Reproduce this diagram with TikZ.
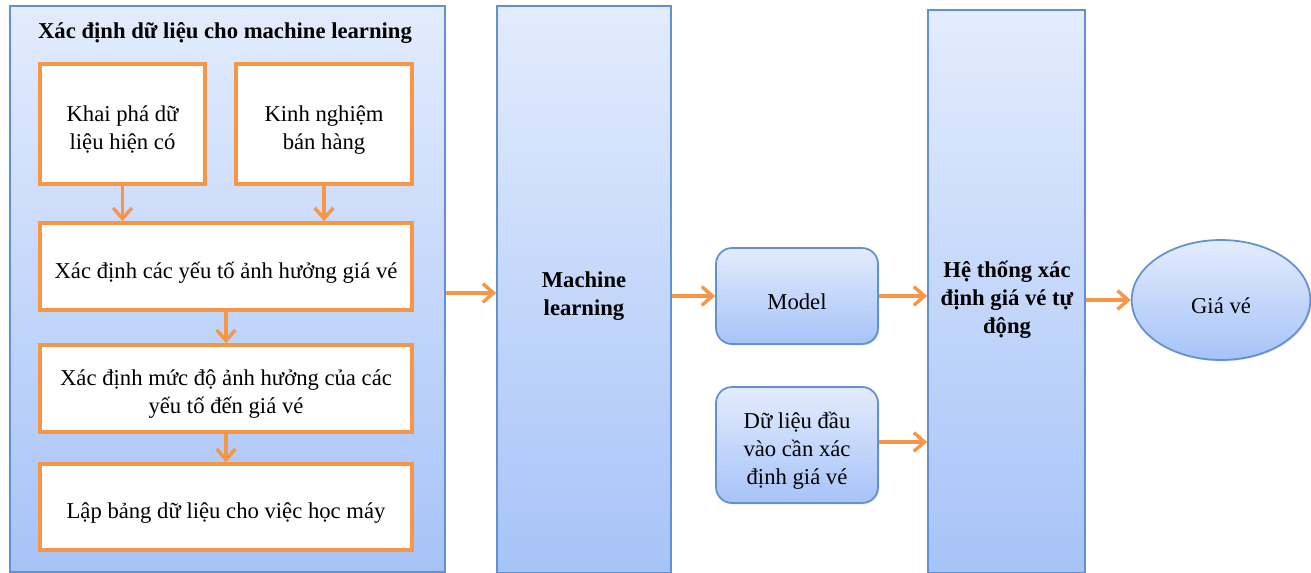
\documentclass[tikz,border=0pt]{standalone}
\usepackage{fontspec}
\setmainfont{Liberation Serif}
\usetikzlibrary{arrows.meta,shapes.geometric,shadows}
\definecolor{blueline}{HTML}{6390D0}
\definecolor{bluetop}{HTML}{E3ECFD}
\definecolor{bluebot}{HTML}{A6C3F8}
\definecolor{orangeline}{HTML}{F79646}
\begin{document}
\begin{tikzpicture}[x=0.75pt,y=-0.75pt,
  panel/.style={draw=blueline,line width=1.3pt,top color=bluetop,bottom color=bluebot,
    drop shadow={shadow xshift=1pt,shadow yshift=-1pt,opacity=0.25}},
  roundpanel/.style={panel,rounded corners=12pt},
  whitebox/.style={draw=orangeline,fill=white,line width=2.6pt},
  flow/.style={draw=orangeline,line width=2.6pt,-{Straight Barb[length=8pt,width=14pt,line width=2.6pt]}},
  lbl/.style={align=center,font=\fontsize{17}{21}\selectfont},
  blbl/.style={align=center,font=\bfseries\fontsize{17}{21}\selectfont},
  low/.style={yshift=-4.5pt}]
\useasboundingbox (0,0) rectangle (1311,573);

% left panel with the data preparation steps
\node[panel,minimum width=326.25pt,minimum height=424.5pt] (prep) at (227.5,289) {};
\node[blbl] (title) at (225,33) {Xác định dữ liệu cho machine learning};
\node[whitebox,minimum width=123.75pt,minimum height=90pt] (mine) at (122.5,124) {};
\node[whitebox,minimum width=132pt,minimum height=90pt] (exp) at (324,124) {};
\node[whitebox,minimum width=279pt,minimum height=65.25pt] (factors) at (226,266.5) {};
\node[whitebox,minimum width=279pt,minimum height=65.25pt] (weight) at (226,388.5) {};
\node[whitebox,minimum width=279pt,minimum height=64.5pt] (table) at (226,507) {};
\node[lbl,low] (minetext) at (mine.center) {Khai phá dữ\\liệu hiện có};
\node[lbl,low] (exptext) at (exp.center) {Kinh nghiệm\\bán hàng};
\node[lbl,low] (factorstext) at (factors.center) {Xác định các yếu tố ảnh hưởng giá vé};
\node[lbl,low] (weighttext) at (weight.center) {Xác định mức độ ảnh hưởng của các\\yếu tố đến giá vé};
\node[lbl,low] (tabletext) at (table.center) {Lập bảng dữ liệu cho việc học máy};

% tall panels
\node[panel,minimum width=130.5pt,minimum height=425.25pt] (ml) at (584,289.5) {};
\node[blbl] (mltext) at (584,296) {Machine\\learning};
\node[panel,minimum width=117.75pt,minimum height=422.25pt] (sys) at (1006.5,291.5) {};
\node[blbl] (systext) at (1007,300) {Hệ thống xác\\định giá vé tự\\động};

% rounded boxes and the result
\node[roundpanel,minimum width=121.5pt,minimum height=72pt] (model) at (797,296) {};
\node[roundpanel,minimum width=121.5pt,minimum height=87pt] (input) at (797,445) {};
\node[panel,ellipse,minimum width=134pt,minimum height=90pt] (price) at (1221,300) {};
\node[lbl,low] (modeltext) at (model.center) {Model};
\node[lbl,low] (inputtext) at (input.center) {Dữ liệu đầu\\vào cần xác\\định giá vé};
\node[lbl,low] (pricetext) at (price.center) {Giá vé};

% connectors
\draw[flow] (mine.south) -- (mine.south |- factors.north);
\draw[flow] (exp.south) -- (exp.south |- factors.north);
\draw[flow] (factors.south) -- (weight.north);
\draw[flow] (weight.south) -- (table.north);
\draw[flow] (prep.east |- 0,293) -- (ml.west |- 0,293);
\draw[flow] (ml.east |- model.west) -- (model.west);
\draw[flow] (model.east) -- (sys.west |- model.east);
\draw[flow] (input.east |- 0,442) -- (sys.west |- 0,442);
\draw[flow] (sys.east |- price.west) -- (price.west);
\end{tikzpicture}
\end{document}
